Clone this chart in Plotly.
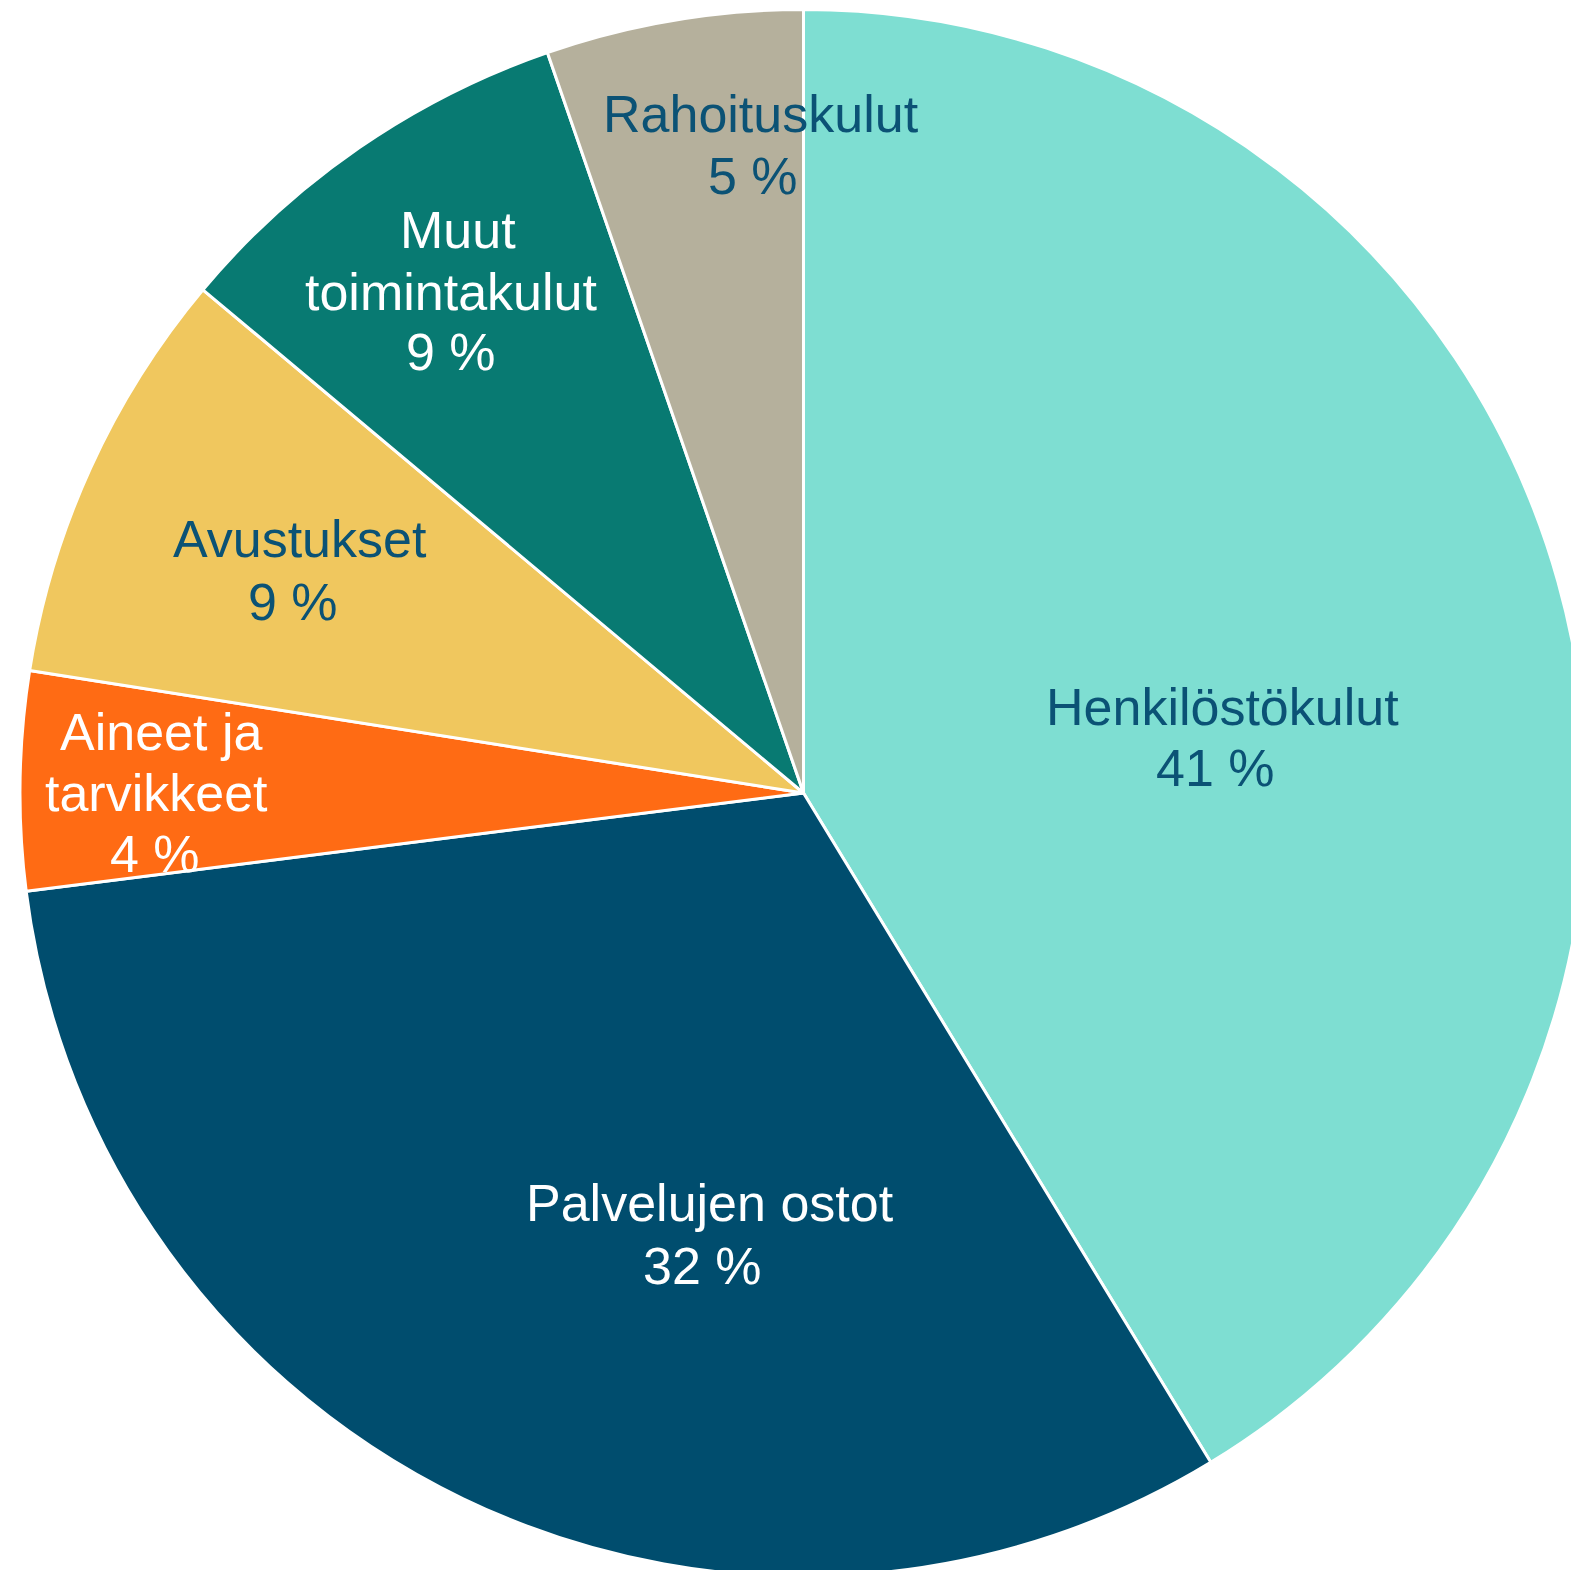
import plotly.graph_objects as go

labels = ["Henkilöstökulut", "Palvelujen ostot", "Aineet ja tarvikkeet",
          "Avustukset", "Muut toimintakulut", "Rahoituskulut"]
label_lines = [["Henkilöstökulut"], ["Palvelujen ostot"], ["Aineet ja", "tarvikkeet"],
               ["Avustukset"], ["Muut", "toimintakulut"], ["Rahoituskulut"]]
values = [41.3, 31.7, 4.5, 8.6, 8.6, 5.3]
pct_text = ["41 %", "32 %", "4 %", "9 %", "9 %", "5 %"]
colors = ["#7EDED2", "#004D6E", "#FF6B14", "#F0C75E", "#087A72", "#B5B09C"]
text_colors = ["#0B5275", "#FFFFFF", "#FFFFFF", "#0B5275", "#FFFFFF", "#0B5275"]

W, H = 1579, 1570
S = 1579 / 1568  # measured positions were taken on a 1568-wide view
# per-label line positions (x, y) in the measured view (layout only)
line_pos = [
    [(1206, 702), (1199, 763)],
    [(697, 1195), (690, 1257)],
    [(152, 727), (147, 788), (146, 848)],
    [(290, 535), (283, 598)],
    [(447, 228), (440, 290), (440, 350)],
    [(748, 113), (740, 175)],
]
Y_SHIFT = -8

fig = go.Figure(go.Pie(
    labels=labels,
    values=values,
    sort=False,
    direction="clockwise",
    rotation=0,
    marker=dict(colors=colors, line=dict(color="white", width=3)),
    textinfo="none",
    hoverinfo="label+percent",
    showlegend=False,
    domain=dict(x=[12 / W, 1.0], y=[0.0, 1.0]),
))

for lines, pct, tc, pos in zip(label_lines, pct_text, text_colors, line_pos):
    for txt, (px, py) in zip(lines + [pct], pos):
        fig.add_annotation(
            x=px * S / W, y=1 - (py + Y_SHIFT) * S / H, xref="paper", yref="paper",
            text=txt, showarrow=False,
            xanchor="center", yanchor="middle", align="center",
            font=dict(family="Liberation Sans, Arial, sans-serif", size=52, color=tc),
        )

fig.update_layout(
    width=W, height=H,
    margin=dict(l=0, r=0, t=0, b=0),
    paper_bgcolor="white",
    plot_bgcolor="white",
)

fig.write_html("out.html")
